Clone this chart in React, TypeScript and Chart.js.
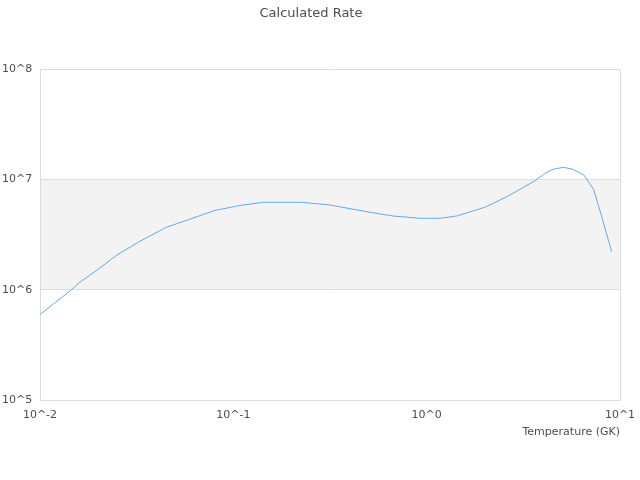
import React, { useEffect, useRef } from "react";
import { Chart, registerables } from "chart.js";

Chart.register(...registerables);

const temperatures: number[] = [
  0.01, 0.0145, 0.016, 0.02, 0.025, 0.0326, 0.045, 0.06, 0.08, 0.108,
  0.143, 0.226, 0.316, 0.51, 0.67, 0.92, 1.17, 1.43, 2.0, 2.6,
  3.04, 3.63, 4.1, 4.5, 5.1, 5.7, 6.5, 7.3, 8.0, 9.05,
];
const rates: number[] = [
  5.97e5, 9.95e5, 1.164e6, 1.534e6, 2.067e6, 2.73e6, 3.687e6, 4.385e6, 5.24e6, 5.815e6,
  6.216e6, 6.216e6, 5.875e6, 5.045e6, 4.67e6, 4.45e6, 4.45e6, 4.67e6, 5.6e6, 6.99e6,
  8.15e6, 9.76e6, 1.139e7, 1.239e7, 1.291e7, 1.239e7, 1.1e7, 8.15e6, 4.77e6, 2.215e6,
];
const xTicks: number[] = [0.01, 0.1, 1, 10];
const yTicks: number[] = [1e5, 1e6, 1e7, 1e8];
const bandRange: number[] = [1e6, 1e7];

const FONT = "'DejaVu Sans', sans-serif";
const TEXT = "#4d4d4d";
const GRID = "#dcdcdc";

const bandPlugin = {
  id: "band",
  beforeDraw(chart: any) {
    const { ctx, chartArea, scales } = chart;
    const y1 = scales.y.getPixelForValue(bandRange[1]);
    const y0 = scales.y.getPixelForValue(bandRange[0]);
    ctx.save();
    ctx.fillStyle = "#f3f3f3";
    ctx.fillRect(chartArea.left, y1, chartArea.right - chartArea.left, y0 - y1);
    ctx.restore();
  },
};

const fmt = (v: number) => "10^" + Math.round(Math.log10(v));

export default function App() {
  const ref = useRef<HTMLCanvasElement | null>(null);
  useEffect(() => {
    if (!ref.current) return;
    const chart = new Chart(ref.current, {
      type: "line",
      data: {
        datasets: [
          {
            label: "Rate",
            data: temperatures.map((t, i) => ({ x: t, y: rates[i] })),
            borderColor: "#63a9ee",
            borderWidth: 1,
            pointRadius: 0,
            tension: 0,
            fill: false,
          },
        ],
      },
      options: {
        responsive: false,
        animation: false,
        layout: { padding: { left: 2, right: 20, top: 0, bottom: 0 } },
        plugins: {
          legend: { display: false },
          tooltip: { enabled: false },
          title: {
            display: true,
            text: "Calculated Rate",
            color: TEXT,
            font: { family: FONT, size: 13, weight: "normal" },
            padding: { top: 6, bottom: 47.7 },
          },
        },
        scales: {
          x: {
            type: "logarithmic",
            min: 0.01,
            max: 10,
            afterBuildTicks: (s: any) => {
              s.ticks = xTicks.map((v) => ({ value: v }));
            },
            afterFit: (s: any) => {
              s.height = 80;
              s.paddingLeft = 0;
              s.paddingRight = 0;
            },
            ticks: {
              color: TEXT,
              font: { family: FONT, size: 11 },
              padding: 9,
              maxRotation: 0,
              autoSkip: false,
              callback: (v: any) => fmt(Number(v)),
            },
            grid: {
              drawTicks: false,
              color: (c: any) =>
                c.index === 0 || c.index === xTicks.length - 1 ? GRID : "rgba(0,0,0,0)",
            },
            border: { display: true, color: GRID },
            title: {
              display: true,
              text: "Temperature (GK)",
              align: "end",
              color: TEXT,
              font: { family: FONT, size: 11 },
              padding: { top: 4, bottom: 41 },
            },
          },
          y: {
            type: "logarithmic",
            min: 1e5,
            max: 1e8,
            afterBuildTicks: (s: any) => {
              s.ticks = yTicks.map((v) => ({ value: v }));
            },
            afterFit: (s: any) => {
              s.width = 38;
              s.paddingTop = 0;
              s.paddingBottom = 0;
            },
            ticks: {
              color: TEXT,
              font: { family: FONT, size: 11 },
              crossAlign: "far",
              padding: 4,
              autoSkip: false,
              callback: (v: any) => fmt(Number(v)),
            },
            grid: { drawTicks: false, color: GRID },
            border: { display: true, color: GRID },
          },
        },
      },
      plugins: [bandPlugin],
    } as any);
    return () => chart.destroy();
  }, []);
  return (
    <div style={{ position: "absolute", left: 0, top: 0, width: 640, height: 480 }}>
      <canvas ref={ref} width={640} height={480} style={{ width: 640, height: 480 }} />
    </div>
  );
}
